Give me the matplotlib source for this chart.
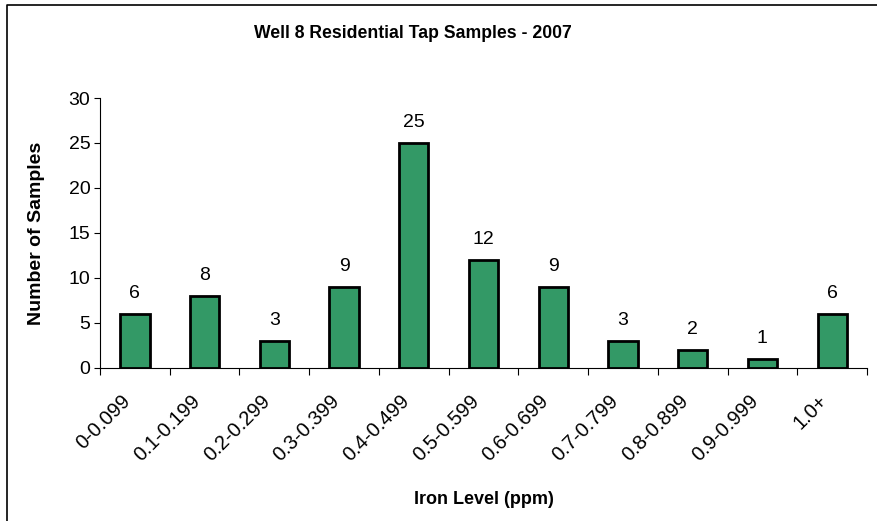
import matplotlib.pyplot as plt
from matplotlib.lines import Line2D
from matplotlib.transforms import ScaledTranslation

plt.rcParams['font.family'] = ['Liberation Sans', 'DejaVu Sans']

# data
ranges = ['0-0.099', '0.1-0.199', '0.2-0.299', '0.3-0.399', '0.4-0.499',
          '0.5-0.599', '0.6-0.699', '0.7-0.799', '0.8-0.899', '0.9-0.999', '1.0+']
counts = [6, 8, 3, 9, 25, 12, 9, 3, 2, 1, 6]

fig = plt.figure(figsize=(8.78, 5.21), dpi=100)
ax = fig.add_axes([0.1139, 0.2937, 0.8736, 0.5182])

x = list(range(len(ranges)))
ax.bar(x, counts, width=0.42, color='#339966', edgecolor='black', linewidth=2)

for xi, c in zip(x, counts):
    ax.text(xi, c + 1.35, str(c), ha='center', va='bottom', fontsize=14)

ax.set_xlim(-0.5, len(ranges) - 0.5)
ax.set_ylim(0, 30)
ax.set_yticks(range(0, 31, 5))
ax.tick_params(axis='y', labelsize=14, length=4, direction='out', pad=3)

# ticks on category boundaries
ax.set_xticks([i - 0.5 for i in range(len(ranges) + 1)])
ax.set_xticklabels([])
ax.set_xticks(x, minor=True)
ax.set_xticklabels(ranges, minor=True, rotation=45, ha='right',
                   rotation_mode='anchor', fontsize=14.5)
ax.tick_params(axis='x', which='major', length=5, direction='out')
ax.tick_params(axis='x', which='minor', length=0, pad=17)
shift = ScaledTranslation(-0.14, 0, fig.dpi_scale_trans)
for lbl in ax.xaxis.get_minorticklabels():
    lbl.set_transform(lbl.get_transform() + shift)

for s in ['top', 'right']:
    ax.spines[s].set_visible(False)

ax.set_ylabel('Number of Samples', fontsize=14, fontweight='bold')
ax.yaxis.set_label_coords(-0.072, 0.5)
ax.set_xlabel('Iron Level (ppm)', fontsize=13, fontweight='bold')
ax.xaxis.set_label_coords(0.5, -0.455)

fig.text(0.47, 0.936, 'Well 8 Residential Tap Samples - 2007', ha='center', va='center',
         fontsize=12.7, fontweight='bold')

# border on left and top only (chart is cropped)
fig.lines.append(Line2D([0.008, 0.008, 1.0], [0.0, 0.99, 0.99], transform=fig.transFigure,
                        color='black', linewidth=1.2))

fig.savefig('out.png', dpi=100)
